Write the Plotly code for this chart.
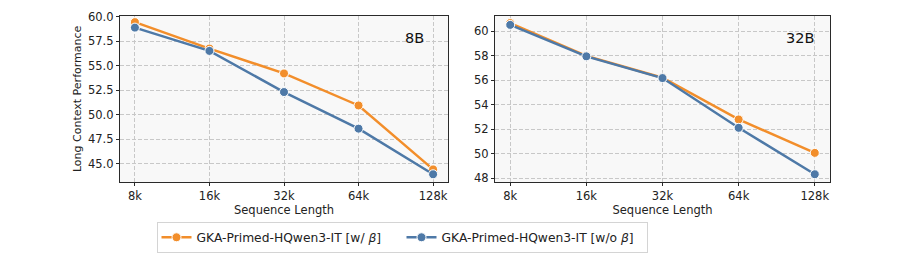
import plotly.graph_objects as go

seq_labels = ["8k", "16k", "32k", "64k", "128k"]
b8_with_beta = [59.44, 56.74, 54.2, 50.93, 44.4]
b8_without_beta = [58.88, 56.5, 52.3, 48.56, 43.9]
b32_with_beta = [60.65, 57.98, 56.2, 52.8, 50.08]
b32_without_beta = [60.5, 57.94, 56.17, 52.12, 48.34]
name_with = "GKA-Primed-HQwen3-IT [w/ <i>β</i>]"
name_without = "GKA-Primed-HQwen3-IT [w/o <i>β</i>]"

ORANGE = "#f28e2b"
BLUE = "#4e79a7"
FONT = "DejaVu Sans"
W, H = 899, 278

x_idx = list(range(len(seq_labels)))

fig = go.Figure()

def add(xa, ya, y, color, name, show):
    fig.add_trace(go.Scatter(
        x=x_idx, y=y, mode="lines+markers", name=name,
        xaxis=xa, yaxis=ya, showlegend=show, legendgroup=name,
        line=dict(color=color, width=2.5),
        marker=dict(color=color, size=9, line=dict(color="white", width=1)),
    ))

add("x", "y", b8_with_beta, ORANGE, name_with, True)
add("x", "y", b8_without_beta, BLUE, name_without, True)
add("x2", "y2", b32_with_beta, ORANGE, name_with, False)
add("x2", "y2", b32_without_beta, BLUE, name_without, False)

ydom = [1 - 182 / H, 1 - 10 / H]
GRID = "#c8c8c8"
common_x = dict(
    tickmode="array", tickvals=x_idx, ticktext=seq_labels, range=[-0.2, 4.2],
    showline=True, linecolor="#2a2a2a", linewidth=1.2, mirror=True,
    showgrid=True, gridcolor=GRID, griddash="4px,2px", gridwidth=0.8,
    ticks="outside", ticklen=3, tickcolor="#2a2a2a",
    tickfont=dict(size=11.5, color="#222222"),
    title=dict(text="Sequence Length", font=dict(size=11.5, color="#222222"), standoff=2),
    zeroline=False,
)
common_y = dict(
    showline=True, linecolor="#2a2a2a", linewidth=1.2, mirror=True,
    showgrid=True, gridcolor=GRID, griddash="4px,2px", gridwidth=0.8,
    ticks="outside", ticklen=3, tickcolor="#2a2a2a",
    tickfont=dict(size=11.5, color="#222222"), zeroline=False,
    domain=ydom,
)

fig.update_layout(
    width=W, height=H,
    margin=dict(l=0, r=0, t=0, b=0),
    paper_bgcolor="white",
    plot_bgcolor="#f8f8f8",
    font=dict(family=FONT, color="#222222"),
    xaxis=dict(common_x, domain=[120 / W, 448 / W], anchor="y"),
    xaxis2=dict(common_x, domain=[495 / W, 830 / W], anchor="y2"),
    yaxis=dict(common_y, range=[43.1, 60.1], tickvals=[45, 47.5, 50, 52.5, 55, 57.5, 60],
               tickformat=".1f", anchor="x",
               title=dict(text="Long Context Performance", font=dict(size=11, color="#222222"), standoff=4)),
    yaxis2=dict(common_y, range=[47.7, 61.25], tickvals=[48, 50, 52, 54, 56, 58, 60], anchor="x2"),
    legend=dict(
        orientation="h", x=402 / W, xanchor="center", y=1 - 223 / H, yanchor="top",
        bordercolor="#d4d4d4", borderwidth=1, bgcolor="white",
        font=dict(size=12.3, color="#222222"), itemwidth=30,
        entrywidth=200, entrywidthmode="pixels",
        tracegroupgap=0,
    ),
    annotations=[
        dict(text="8B", xref="x", yref="paper", x=3.75, y=1 - 33 / H, showarrow=False,
             font=dict(size=14.5, color="#111111"), xanchor="center", yanchor="middle"),
        dict(text="32B", xref="x2", yref="paper", x=3.8, y=1 - 33 / H, showarrow=False,
             font=dict(size=14.5, color="#111111"), xanchor="center", yanchor="middle"),
    ],
)

fig.write_html("out.html")
